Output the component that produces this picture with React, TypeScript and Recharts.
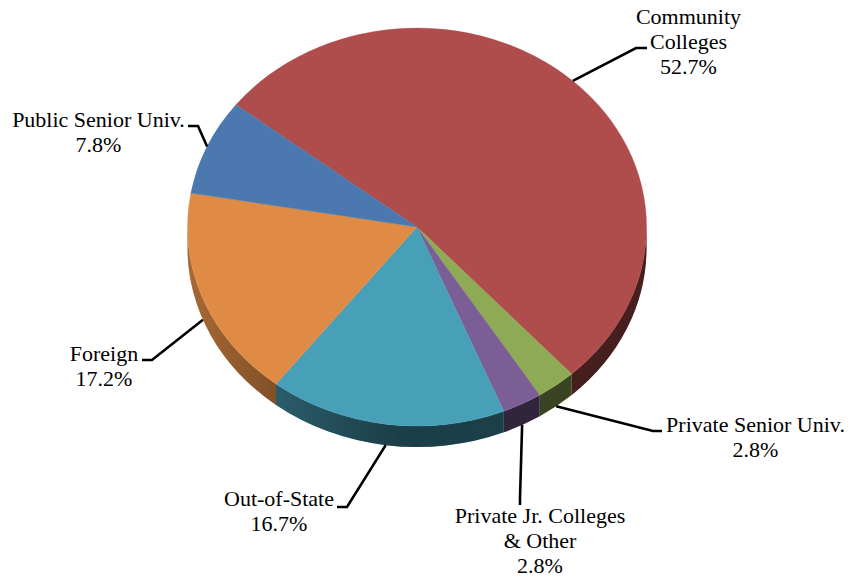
import React from "react";
import { PieChart, Pie } from "recharts";

const sliceNames = ["Community Colleges", "Private Senior Univ.", "Private Jr. Colleges & Other", "Out-of-State", "Foreign", "Public Senior Univ."];
const sliceValues = [52.7, 2.8, 2.8, 16.7, 17.2, 7.8];
const sliceColors = ["#AE4D4B", "#8FAA55", "#7B5E96", "#489FB8", "#E08B45", "#4B79AF"];
const labelLines = [
  ["Community", "Colleges", "52.7%"],
  ["Private Senior Univ.", "2.8%"],
  ["Private Jr. Colleges", "& Other", "2.8%"],
  ["Out-of-State", "16.7%"],
  ["Foreign", "17.2%"],
  ["Public Senior Univ.", "7.8%"],
];
// label centre x, first baseline y
const labelPos = [[688.5, 24], [755.5, 432], [540, 523], [279, 506], [104, 361], [98.5, 127]];
// leader elbow and end
const leaderPts = [
  [[636, 48], [647, 48]],
  [[653, 431], [662, 431]],
  [[520, 498], [520, 505]],
  [[347, 507], [337, 507]],
  [[152, 360], [142, 360]],
  [[198, 126], [188, 126]],
];

const tableData = sliceNames.map((name, i) => ({ name, value: sliceValues[i], fill: sliceColors[i] }));

const CX = 417;
const CY = 227;
const RX = 229.5;
const RY = 199;
const DEPTH = 21;
const START = 142.1;
const SQUASH = RY / RX;
const RAD = Math.PI / 180;

const px = (cx: number, r: number, a: number) => cx + r * Math.cos(a * RAD);
const py = (cy: number, r: number, a: number) => cy - r * SQUASH * Math.sin(a * RAD);

function SliceShape(props: any) {
  const { cx, cy, outerRadius: r, startAngle: a, endAngle: b, fill, index } = props;
  const ry = r * SQUASH;
  const large = Math.abs(a - b) > 180 ? 1 : 0;
  const top = `M${cx},${cy} L${px(cx, r, a)},${py(cy, r, a)} A${r},${ry} 0 ${large} 1 ${px(cx, r, b)},${py(cy, r, b)} Z`;
  const s = Math.min(a, 0);
  const e = Math.max(b, -180);
  let wall = null as any;
  if (s > e) {
    const wallLarge = s - e > 180 ? 1 : 0;
    const d = `M${px(cx, r, s)},${py(cy, r, s)} A${r},${ry} 0 ${wallLarge} 1 ${px(cx, r, e)},${py(cy, r, e)} L${px(cx, r, e)},${py(cy, r, e) + DEPTH} A${r},${ry} 0 ${wallLarge} 0 ${px(cx, r, s)},${py(cy, r, s) + DEPTH} Z`;
    const id = `shade${index}`;
    wall = (
      <g>
        <defs>
          <linearGradient id={id} gradientUnits="userSpaceOnUse" x1={cx - r} x2={cx + r} y1={0} y2={0}>
            <stop offset="0" stopColor="#000" stopOpacity={0.25} />
            <stop offset="0.19" stopColor="#000" stopOpacity={0.42} />
            <stop offset="0.46" stopColor="#000" stopOpacity={0.61} />
            <stop offset="1" stopColor="#000" stopOpacity={0.6} />
          </linearGradient>
        </defs>
        <path d={d} fill={fill} />
        <path d={d} fill={`url(#${id})`} />
      </g>
    );
  }
  return (
    <g>
      {wall}
      <path d={top} fill={fill} stroke={fill} strokeWidth={0.4} />
    </g>
  );
}

function SliceLabel(props: any) {
  const { cx, cy, outerRadius: r, midAngle, index } = props;
  const x0 = px(cx, r, midAngle);
  const lower = Math.sin(midAngle * RAD) < 0;
  const y0 = py(cy, r, midAngle) + (lower ? DEPTH : 0);
  const [elbow, end] = leaderPts[index];
  const [lx, ly] = labelPos[index];
  return (
    <g>
      <polyline points={`${x0},${y0} ${elbow[0]},${elbow[1]} ${end[0]},${end[1]}`} fill="none" stroke="#000" strokeWidth={2.6} />
      <text x={lx} y={ly} textAnchor="middle" fontFamily="'Liberation Serif', serif" fontSize={22} fill="#000">
        {labelLines[index].map((line, i) => (
          <tspan key={i} x={lx} y={ly + i * 25}>{line}</tspan>
        ))}
      </text>
    </g>
  );
}

export default function App() {
  return (
    <div style={{ position: "absolute", left: 0, top: 0, width: 849, height: 580, background: "#fff" }}>
      <PieChart width={849} height={580} margin={{ top: 0, right: 0, bottom: 0, left: 0 }}>
        <Pie
          data={tableData}
          dataKey="value"
          nameKey="name"
          cx={CX}
          cy={CY}
          outerRadius={RX}
          innerRadius={0}
          startAngle={START}
          endAngle={START - 360}
          isAnimationActive={false}
          stroke="none"
          shape={SliceShape}
          label={SliceLabel}
          labelLine={false}
        />
      </PieChart>
    </div>
  );
}
